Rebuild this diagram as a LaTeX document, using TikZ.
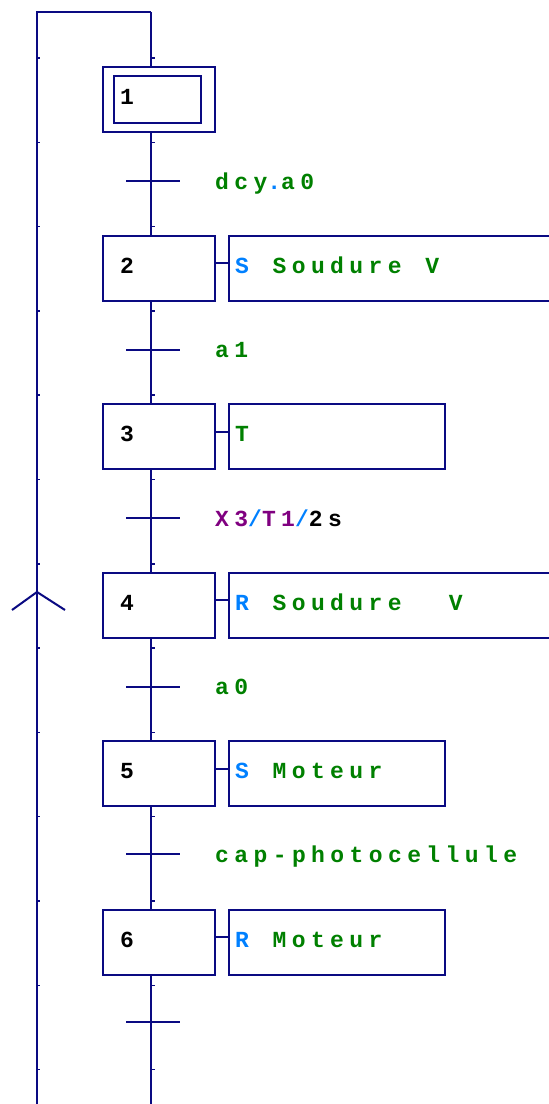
\documentclass[tikz,border=0pt]{standalone}
\usepackage{fontspec}
\newfontfamily\grafcetfont[LetterSpace=23.5, WordSpace=1.23]{Liberation Mono Bold}
\definecolor{gline}{RGB}{10,10,130}
\definecolor{ggreen}{RGB}{0,128,0}
\definecolor{gblue}{RGB}{0,128,255}
\definecolor{gpurple}{RGB}{128,0,128}
\tikzset{
  gl/.style={draw=gline, line width=2pt},
  stepbox/.style={draw=gline, line width=2pt, minimum width=112pt, minimum height=65pt, inner sep=0pt},
  actbox/.style={draw=gline, line width=2pt, minimum height=65pt, inner sep=0pt},
  txt/.style={font=\grafcetfont\fontsize{23}{23}\selectfont, anchor=base west, inner sep=0pt},
  num/.style={txt, text=black},
  act/.style={txt, text=ggreen},
  cond/.style={txt, text=ggreen},
  tick/.style={draw=gline, line width=1.5pt},
}
\begin{document}
\begin{tikzpicture}[x=1pt, y=-1pt]
\useasboundingbox (0,0) rectangle (549,1104);
\clip (0,0) rectangle (549,1104);

% rails
\coordinate (topL) at (37,12);
\coordinate (topR) at (151,12);
\coordinate (botL) at (37,1110);
\coordinate (botR) at (151,1110);

% steps
\node[stepbox] (s1) at (159,99.5) {};
\node[draw=gline, line width=2pt, minimum width=87pt, minimum height=47pt, inner sep=0pt] (s1i) at (157.5,99.5) {};
\node[stepbox] (s2) at (159,268) {};
\node[stepbox] (s3) at (159,436.5) {};
\node[stepbox] (s4) at (159,605) {};
\node[stepbox] (s5) at (159,773.5) {};
\node[stepbox] (s6) at (159,942) {};

% step numbers
\node[num] (n1) at (120,104.5) {1};
\node[num] (n2) at (120,273) {2};
\node[num] (n3) at (120,441.5) {3};
\node[num] (n4) at (120,610) {4};
\node[num] (n5) at (120,778.5) {5};
\node[num] (n6) at (120,947) {6};

% action boxes
\node[actbox, minimum width=340pt] (a2) at (399,268) {};
\node[actbox, minimum width=216pt] (a3) at (337,436.5) {};
\node[actbox, minimum width=340pt] (a4) at (399,605) {};
\node[actbox, minimum width=216pt] (a5) at (337,773.5) {};
\node[actbox, minimum width=216pt] (a6) at (337,942) {};

% action texts
\node[act] (x2) at (235,273) {{\color{gblue}S} Soudure V};
\node[act] (x3) at (235,441.5) {T};
\node[act] (x4) at (235,610) {{\color{gblue}R} Soudure\ \ V};
\node[act] (x5) at (235,778.5) {{\color{gblue}S} Moteur};
\node[act] (x6) at (235,947) {{\color{gblue}R} Moteur};

% links step -> action
\foreach \i in {2,...,6}
  \draw[gl] ([yshift=5pt]s\i.east) -- ([yshift=5pt]a\i.west);

% transitions
\coordinate (t1) at (151,181);
\coordinate (t2) at (151,349.5);
\coordinate (t3) at (151,518);
\coordinate (t4) at (151,686.5);
\coordinate (t5) at (151,854);
\coordinate (t6) at (151,1022);
\foreach \i in {1,...,6}
  \draw[gl] ([xshift=-25pt]t\i) -- ([xshift=29pt]t\i);

% receptivities
\node[cond] (r1) at (215,189) {dcy{\color{gblue}.}a0};
\node[cond] (r2) at (215,357.5) {a1};
\node[cond] (r3) at (215,526) {{\color{gpurple}X3}{\color{gblue}/}{\color{gpurple}T1}{\color{gblue}/}{\color{black}2s}};
\node[cond] (r4) at (215,694.5) {a0};
\node[cond] (r5) at (215,862) {cap-photocellule};

% main vertical line
\draw[gl] (topR) -- (s1.north -| topR);
\draw[gl] (s1.south -| topR) -- (s2.north -| topR);
\draw[gl] (s2.south -| topR) -- (s3.north -| topR);
\draw[gl] (s3.south -| topR) -- (s4.north -| topR);
\draw[gl] (s4.south -| topR) -- (s5.north -| topR);
\draw[gl] (s5.south -| topR) -- (s6.north -| topR);
\draw[gl] (s6.south -| topR) -- (botR);

% return line with upward arrow
\draw[gl] (botL) -- (topL) -- (topR);
\coordinate (arr) at (37,592);
\draw[gl] ([shift={(-25,18)}]arr) -- (arr) -- ([shift={(28,18)}]arr);

% grid ticks along the rails
\foreach \k in {0,...,12} {
  \draw[tick] (151,58+84.3*\k) -- ++(4,0);
  \draw[tick] (37,58+84.3*\k) -- ++(3,0);
}
\end{tikzpicture}
\end{document}
